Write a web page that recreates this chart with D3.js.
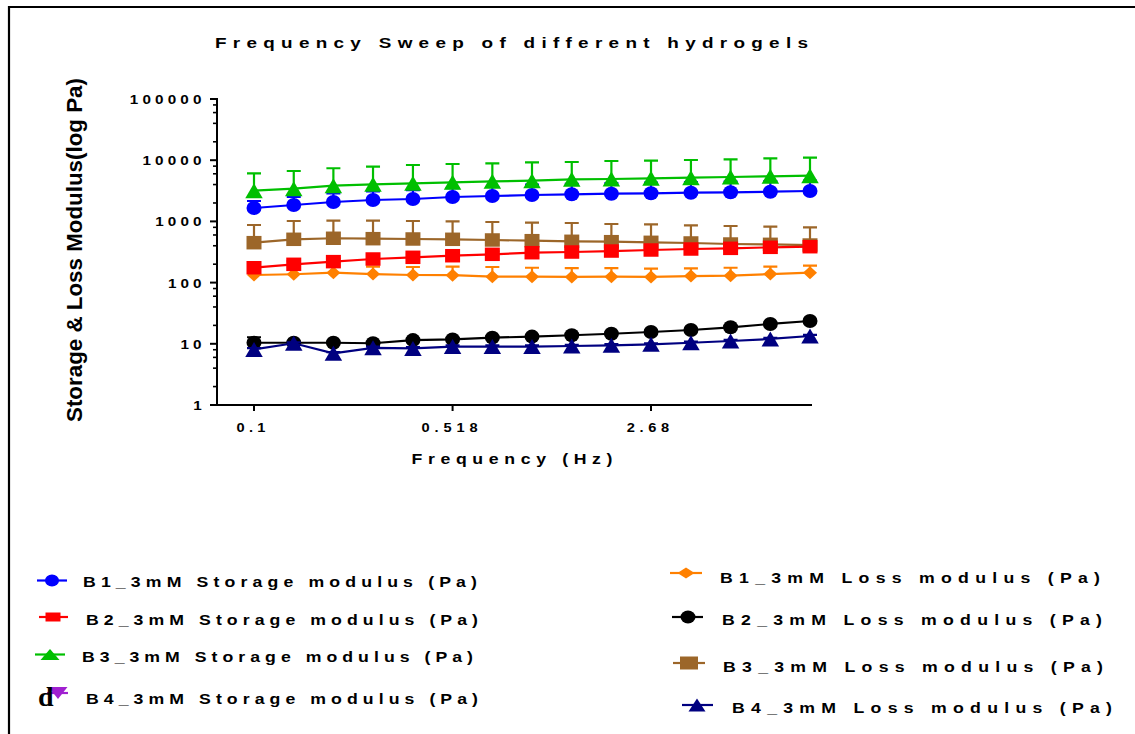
<!DOCTYPE html>
<html>
<head>
<meta charset="utf-8">
<script src="https://cdn.jsdelivr.net/npm/d3@7"></script>
<style>
  html, body { margin: 0; padding: 0; background: #fff; }
  svg { display: block; }
  text { font-family: "Liberation Sans", Arial, sans-serif; font-weight: bold; fill: #000; }
</style>
</head>
<body>
<svg id="chart" width="1135" height="734"></svg>
<script>
// Frequency sweep: storage / loss modulus of four hydrogels
const freq = [0.1, 0.139, 0.193, 0.268, 0.373, 0.518, 0.72, 1.0, 1.39, 1.93, 2.68, 3.73, 5.18, 7.2, 10];

const b1Storage = [1655, 1854, 2075, 2238, 2323, 2505, 2600, 2700, 2773, 2838, 2880, 2945, 2988, 3056, 3140];
const b1StorageSd = [500, 650, 780, 850, 930, 980, 1050, 1300, 1350, 1400, 1420, 1450, 1480, 1500, 1520];
const b2Storage = [175, 199, 220, 243, 259, 275, 290, 308, 316, 328, 341, 354, 363, 377, 386];
const b2StorageSd = [20, 25, 28, 30, 30, 32, 35, 35, 38, 40, 40, 42, 45, 45, 48];
const b3Storage = [3175, 3420, 3830, 4037, 4195, 4355, 4520, 4625, 4875, 4930, 5060, 5175, 5310, 5455, 5580];
const b3StorageSd = [2935, 3245, 3550, 3793, 4155, 4315, 4375, 4615, 4470, 4770, 4755, 4895, 5040, 5285, 5410];

const b1Loss = [133, 137, 145, 138, 133, 132, 125, 125, 124, 125, 124, 128, 130, 138, 145];
const b1LossSd = [45, 45, 45, 45, 47, 50, 55, 50, 49, 47, 45, 43, 45, 45, 45];
const b2Loss = [10.4, 10.4, 10.4, 10.2, 11.5, 11.8, 12.6, 13.1, 13.8, 14.6, 15.6, 16.8, 18.6, 21.1, 23.6];
const b2LossSd = [2.4, 0.5, 0.5, 0.5, 0.6, 0.6, 0.6, 0.6, 0.7, 0.7, 0.8, 0.8, 0.9, 1, 1];
const b3Loss = [449, 510, 530, 522, 516, 510, 497, 484, 473, 466, 455, 444, 427, 422, 411];
const b3LossSd = [424, 506, 496, 504, 500, 490, 480, 468, 469, 441, 442, 419, 414, 397, 390];
const b4Loss = [8.1, 10.2, 7.0, 8.6, 8.4, 9.0, 9.0, 9.0, 9.2, 9.45, 9.8, 10.4, 11.1, 12.0, 13.4];
const b4LossSd = [0.4, 0.4, 0.3, 0.4, 0.4, 0.4, 0.4, 0.4, 0.4, 0.4, 0.4, 0.5, 0.5, 0.5, 0.6];

const yTickValues = [1, 10, 100, 1000, 10000, 100000];
const yTickLabels = ["1", "10", "100", "1000", "10000", "100000"];
const yMinorMult = [2, 4, 6, 8];
const xTickValues = [0.1, 0.518, 2.68];
const xTickLabels = ["0.1", "0.518", "2.68"];

const titleText = "Frequency Sweep of different hydrogels";
const xTitle = "Frequency (Hz)";
const yTitle = "Storage & Loss Modulus(log Pa)";

// loss series drawn first, storage on top (as in the figure)
const plotted = [
  { values: b1Loss, sd: b1LossSd, color: "#ff8000", shape: "diamond" },
  { values: b2Loss, sd: b2LossSd, color: "#000000", shape: "circle" },
  { values: b3Loss, sd: b3LossSd, color: "#9c6629", shape: "square" },
  { values: b4Loss, sd: b4LossSd, color: "#000080", shape: "triangle" },
  { values: b1Storage, sd: b1StorageSd, color: "#0000ff", shape: "circle" },
  { values: b2Storage, sd: b2StorageSd, color: "#ff0000", shape: "square" },
  { values: b3Storage, sd: b3StorageSd, color: "#00bf00", shape: "triangle" },
];

const legendLeft = [
  { label: "B1_3mM Storage modulus (Pa)", color: "#0000ff", shape: "circle", mx: 52, my: 580.5, l0: 37, l1: 67, tx: 83, ty: 587, tw: 394, w: 14, h: 12 },
  { label: "B2_3mM Storage modulus (Pa)", color: "#ff0000", shape: "square", mx: 53, my: 617, l0: 39, l1: 68, tx: 86, ty: 624.5, tw: 392, w: 15, h: 9 },
  { label: "B3_3mM Storage modulus (Pa)", color: "#00bf00", shape: "triangle", mx: 50, my: 654.5, l0: 35, l1: 65, tx: 82, ty: 661.5, tw: 391, w: 19, h: 11 },
  { label: "B4_3mM Storage modulus (Pa)", color: "#a020d0", shape: "triangleDown", mx: 58, my: 693, l0: 47, l1: 68, tx: 86, ty: 704, tw: 392, w: 19, h: 12 },
];
const legendRight = [
  { label: "B1_3mM Loss modulus (Pa)", color: "#ff8000", shape: "diamond", mx: 686, my: 573, l0: 670, l1: 702, tx: 720, ty: 582.5, tw: 380, w: 17, h: 11 },
  { label: "B2_3mM Loss modulus (Pa)", color: "#000000", shape: "circle", mx: 688, my: 617, l0: 672, l1: 703, tx: 722, ty: 625, tw: 380, w: 15, h: 13 },
  { label: "B3_3mM Loss modulus (Pa)", color: "#9c6629", shape: "square", mx: 689, my: 663, l0: 673, l1: 705, tx: 723, ty: 671.5, tw: 380, w: 18, h: 13 },
  { label: "B4_3mM Loss modulus (Pa)", color: "#000080", shape: "triangle", mx: 697, my: 705, l0: 682, l1: 713, tx: 732, ty: 712.5, tw: 380, w: 17, h: 13 },
];

// marker sizes in the plot (w x h)
const markerSize = {
  circle: [15, 14], square: [15, 13.5], triangle: [17.5, 15], diamond: [14, 13]
};

// the source picture is slightly stretched sideways, text included
const STRETCH = 1.22;

function markerPath(shape, w, h) {
  const a = w / 2, b = h / 2;
  switch (shape) {
    case "circle":
      return `M${-a},0A${a},${b} 0 1,0 ${a},0A${a},${b} 0 1,0 ${-a},0Z`;
    case "square":
      return `M${-a},${-b}H${a}V${b}H${-a}Z`;
    case "triangle":
      return `M0,${-b}L${a},${b}L${-a},${b}Z`;
    case "triangleDown":
      return `M0,${b}L${a},${-b}L${-a},${-b}Z`;
    case "diamond":
      return `M0,${-b}L${a},0L0,${b}L${-a},0Z`;
  }
}

// spaced-out label from x0 over a total width
function spacedText(g, str, x0, y0, size, width) {
  return g.append("text")
    .attr("transform", `translate(${x0},${y0}) scale(${STRETCH},1)`)
    .attr("font-size", size)
    .attr("textLength", width / STRETCH)
    .attr("lengthAdjust", "spacing")
    .text(str);
}

const svg = d3.select("#chart");
const W = 1135, H = 734;
const plotLeft = 217, plotRight = 812, plotTop = 99, plotBottom = 405;

const x = d3.scaleLog().domain([0.1, 10]).range([254, 810]);
const y = d3.scaleLog().domain([1, 100000]).range([plotBottom, plotTop]);

// page frame (top + left rule)
svg.append("path")
  .attr("d", `M9,${H}V7H${W}`)
  .attr("fill", "none").attr("stroke", "#000").attr("stroke-width", 2.2);

// title
spacedText(svg, titleText, 215, 48, 15.5, 593);

// axes
const axisG = svg.append("g");
axisG.append("line")
  .attr("x1", plotLeft).attr("x2", plotLeft)
  .attr("y1", y(100000) - 1).attr("y2", plotBottom + 1)
  .attr("stroke", "#000").attr("stroke-width", 2);
axisG.append("line")
  .attr("x1", plotLeft - 1).attr("x2", plotRight)
  .attr("y1", plotBottom).attr("y2", plotBottom)
  .attr("stroke", "#000").attr("stroke-width", 2);

axisG.selectAll("line.ymajor").data(yTickValues).enter().append("line")
  .attr("class", "ymajor")
  .attr("x1", plotLeft - 7).attr("x2", plotLeft)
  .attr("y1", (d) => y(d)).attr("y2", (d) => y(d))
  .attr("stroke", "#000").attr("stroke-width", 2);

const minors = [];
yTickValues.slice(0, -1).forEach((d) => yMinorMult.forEach((m) => minors.push(d * m)));
axisG.selectAll("line.yminor").data(minors).enter().append("line")
  .attr("class", "yminor")
  .attr("x1", plotLeft - 4).attr("x2", plotLeft)
  .attr("y1", (d) => y(d)).attr("y2", (d) => y(d))
  .attr("stroke", "#000").attr("stroke-width", 1.6);

const yLabLen = (s) => 12.7 * s.length - 4.5;
yTickValues.forEach((v, i) => {
  const s = yTickLabels[i];
  spacedText(axisG, s, 201.5 - yLabLen(s), y(v) + 5, 12.5, yLabLen(s));
});

axisG.selectAll("line.xtick").data(xTickValues).enter().append("line")
  .attr("class", "xtick")
  .attr("x1", (d) => x(d)).attr("x2", (d) => x(d))
  .attr("y1", plotBottom).attr("y2", plotBottom + 6)
  .attr("stroke", "#000").attr("stroke-width", 2);

const xLabLen = (s) => 13.5 * (s.length - 1) + 2;
xTickValues.forEach((v, i) => {
  const s = xTickLabels[i];
  spacedText(axisG, s, x(v) - 3 - xLabLen(s) / 2, 432, 12, xLabLen(s));
});

spacedText(svg, xTitle, 411.5, 464, 14.5, 201);

svg.append("text")
  .attr("transform", "translate(81.5,250) rotate(-90)")
  .attr("x", -172).attr("y", 0)
  .attr("font-size", 22)
  .attr("textLength", 344).attr("lengthAdjust", "spacingAndGlyphs")
  .text(yTitle);

// series
const line = d3.line().x((d) => x(d[0])).y((d) => y(d[1]));
const seriesG = svg.append("g");
plotted.forEach((s) => {
  const g = seriesG.append("g");
  const pts = freq.map((f, i) => [f, s.values[i], s.sd[i]]);
  const cap = 7;
  g.selectAll("path.err").data(pts).enter().append("path")
    .attr("class", "err")
    .attr("d", (d) => {
      const px = x(d[0]), py = y(d[1]), pt = y(d[1] + d[2]);
      return `M${px},${py}V${pt}M${px - cap},${pt}H${px + cap}`;
    })
    .attr("fill", "none").attr("stroke", s.color).attr("stroke-width", 2.2);
  g.append("path")
    .attr("d", line(pts))
    .attr("fill", "none").attr("stroke", s.color).attr("stroke-width", 2.2);
  const [mw, mh] = markerSize[s.shape];
  g.selectAll("path.mk").data(pts).enter().append("path")
    .attr("class", "mk")
    .attr("transform", (d) => `translate(${x(d[0])},${y(d[1])})`)
    .attr("d", markerPath(s.shape, mw, mh))
    .attr("fill", s.color);
});

// legends
const legG = svg.append("g");
legendLeft.concat(legendRight).forEach((it) => {
  legG.append("line")
    .attr("x1", it.l0).attr("x2", it.l1)
    .attr("y1", it.my).attr("y2", it.my)
    .attr("stroke", it.color).attr("stroke-width", 2.2);
  legG.append("path")
    .attr("transform", `translate(${it.mx},${it.my})`)
    .attr("d", markerPath(it.shape, it.w, it.h))
    .attr("fill", it.color);
  spacedText(legG, it.label, it.tx, it.ty, 14.5, it.tw);
});

// stray "d" glyph sitting over the B4 storage legend key
legG.append("text")
  .attr("x", 38).attr("y", 706)
  .style("font-family", "'Liberation Serif', 'Times New Roman', serif")
  .attr("font-size", 28)
  .text("d");
</script>
</body>
</html>
